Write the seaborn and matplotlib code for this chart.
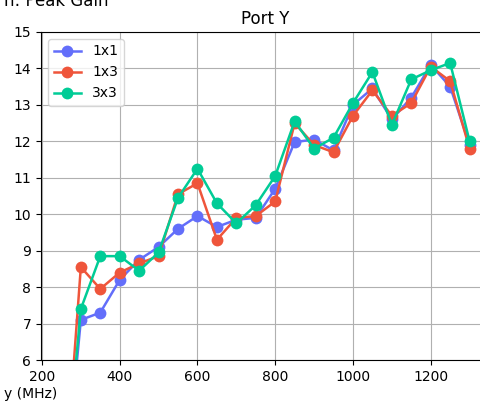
import numpy as np
import pandas as pd
import matplotlib
matplotlib.use("Agg")
import matplotlib.pyplot as plt
import seaborn as sns

freqs = [250, 300, 350, 400, 450, 500, 550, 600, 650, 700, 750, 800,
         850, 900, 950, 1000, 1050, 1100, 1150, 1200, 1250, 1300]
gain_1x1 = [1.5, 7.1, 7.3, 8.2, 8.75, 9.1, 9.6, 9.95, 9.65, 9.85, 9.9, 10.7,
            11.98, 12.05, 11.75, 13.0, 13.45, 12.6, 13.2, 14.1, 13.5, 11.9]
gain_1x3 = [1.3, 8.55, 7.95, 8.4, 8.65, 8.85, 10.55, 10.85, 9.3, 9.9, 9.95, 10.35,
            12.5, 11.9, 11.7, 12.7, 13.4, 12.7, 13.05, 14.05, 13.65, 11.8]
gain_3x3 = [1.6, 7.4, 8.85, 8.85, 8.45, 8.95, 10.45, 11.25, 10.3, 9.75, 10.25, 11.05,
            12.55, 11.8, 12.1, 13.05, 13.9, 12.45, 13.7, 13.95, 14.15, 12.0]
configs = ["1x1", "1x3", "3x3"]
colors = ["#636EFA", "#EF553B", "#00CC96"]

df = pd.DataFrame({
    "freq": freqs * 3,
    "gain": gain_1x1 + gain_1x3 + gain_3x3,
    "config": sum([[c] * len(freqs) for c in configs], []),
})

plt.rcParams["font.family"] = ["DejaVu Sans"]
fig = plt.figure(figsize=(4.81, 4.05), dpi=100)
ax = fig.add_axes([41 / 481, 1 - 360 / 405, 449 / 481, 328 / 405])

sns.lineplot(data=df, x="freq", y="gain", hue="config", palette=colors,
             marker="o", markersize=8.5, markeredgewidth=0, linewidth=1.8,
             ax=ax)

ax.set_xlim(197.5, 1352.5)
ax.set_ylim(6, 15)
ax.set_xticks([200, 400, 600, 800, 1000, 1200])
ax.grid(True, color="#b0b0b0", linewidth=0.8)
ax.set_axisbelow(True)
ax.set_xlabel("")
ax.set_ylabel("")
ax.set_title("Port Y", fontsize=12)
ax.tick_params(labelsize=10)
ax.legend(loc="upper left", fontsize=10)

fig.text(108 / 481, 1 - 6 / 405, "n: Peak Gain", ha="right", va="baseline", fontsize=12)
fig.text(57 / 481, 7 / 405, "y (MHz)", ha="right", va="baseline", fontsize=10)

fig.savefig("out.png", dpi=100)
